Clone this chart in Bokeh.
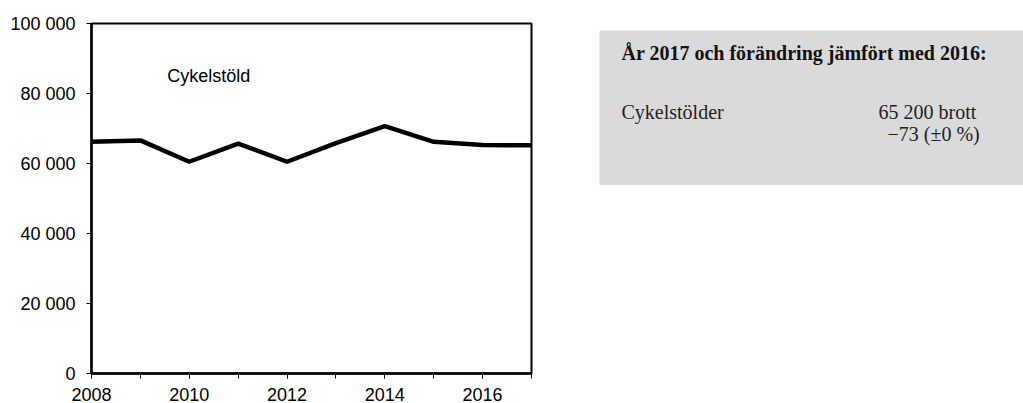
from bokeh.plotting import figure
from bokeh.models import Range1d, SingleIntervalTicker, FixedTicker, Label
from bokeh.layouts import row
from bokeh.embed import file_html
from bokeh.resources import INLINE
from bokeh.core.properties import value

# ---- data ----
years = [2008, 2009, 2010, 2011, 2012, 2013, 2014, 2015, 2016, 2017]
cykelstold = [66200, 66600, 60500, 65700, 60500, 65800, 70700, 66200, 65300, 65200]
series_label = "Cykelstöld"
y_ticks = [0, 20000, 40000, 60000, 80000, 100000]
y_tick_labels = ["0", "20 000", "40 000", "60 000", "80 000", "100 000"]

box_title = "År 2017 och förändring jämfört med 2016:"
box_item = "Cykelstölder"
box_count = "65 200 brott"
box_change = "\u221273 (\u00b10 %)"

SANS = "Liberation Sans"
SERIF = "Liberation Serif"

# ---- main chart ----
p = figure(width=543, height=403, output_backend="svg", toolbar_location=None,
           title=None,
           x_range=Range1d(2008, 2017), y_range=Range1d(0, 100000),
           min_border_left=91, min_border_top=23, min_border_right=12,
           min_border_bottom=30)
p.xgrid.visible = False
p.ygrid.visible = False
p.outline_line_color = "black"
p.outline_line_width = 2
p.background_fill_color = "white"
p.border_fill_color = "white"

p.line(years, cykelstold, line_color="black", line_width=4.5)

p.add_layout(Label(x=2009.55, y=85000, text=series_label, text_baseline="middle",
                   text_font=SANS, text_font_size="18px", text_color="black"))

xa = p.xaxis[0]
xa.ticker = SingleIntervalTicker(interval=2, num_minor_ticks=2)
xa.axis_line_width = 2.5
xa.axis_line_color = "black"
xa.major_tick_in = 0
xa.major_tick_out = 5
xa.minor_tick_in = 0
xa.minor_tick_out = 5
xa.major_tick_line_color = "black"
xa.minor_tick_line_color = "black"
xa.major_label_standoff = 9
xa.major_label_text_font = SANS
xa.major_label_text_font_size = "18px"
xa.major_label_text_color = "black"

ya = p.yaxis[0]
ya.ticker = FixedTicker(ticks=y_ticks)
ya.major_label_overrides = {t: l for t, l in zip(y_ticks, y_tick_labels)}
ya.axis_line_width = 2.5
ya.axis_line_color = "black"
ya.major_tick_in = 0
ya.major_tick_out = 5
ya.minor_tick_line_color = None
ya.major_tick_line_color = "black"
ya.major_label_standoff = 11
ya.major_label_text_font = SANS
ya.major_label_text_font_size = "18px"
ya.major_label_text_color = "black"

# ---- info box ----
q = figure(width=480, height=185, output_backend="svg", toolbar_location=None,
           title=None, x_axis_location=None, y_axis_location=None,
           x_range=Range1d(0, 424), y_range=Range1d(155, 0),
           min_border_left=56, min_border_top=30, min_border_right=0,
           min_border_bottom=0)
q.xgrid.visible = False
q.ygrid.visible = False
q.outline_line_color = None
q.background_fill_color = "#dadada"
q.border_fill_color = "white"

q.text(x=[22], y=[22], text=[box_title], text_font=value(SERIF),
       text_font_size="20px", text_font_style="bold", text_color="#111111",
       text_baseline="alphabetic")
q.text(x=[22], y=[81], text=[box_item], text_font=value(SERIF),
       text_font_size="20px", text_color="#222222", text_baseline="alphabetic")
q.text(x=[279], y=[81], text=[box_count], text_font=value(SERIF),
       text_font_size="20px", text_color="#222222", text_baseline="alphabetic")
q.text(x=[288], y=[103], text=[box_change], text_font=value(SERIF),
       text_font_size="20px", text_color="#222222", text_baseline="alphabetic")

# keep each figure's own borders (no frame alignment across the row)
for fig in (p, q):
    if "frame_align" in fig.properties():
        fig.frame_align = False

layout = row(p, q, spacing=0)
open("out.html", "w").write(file_html(layout, INLINE))
